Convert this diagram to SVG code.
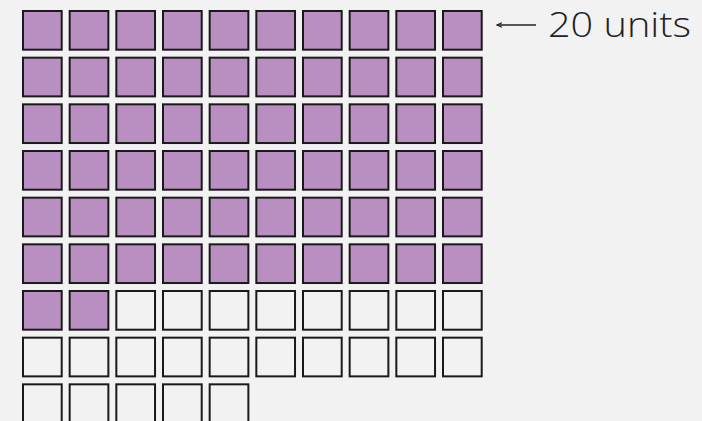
<svg xmlns="http://www.w3.org/2000/svg" width="702" height="421" viewBox="0 0 702 421">
<style>
.f{fill:#b98fc2;stroke:#1a1a1a;stroke-width:2}
.e{fill:none;stroke:#1a1a1a;stroke-width:2}
.t{font-family:"Open Sans","Noto Sans",sans-serif;font-weight:300;font-size:34px;fill:#222}
</style>
<defs>
<marker id="ah" markerWidth="8" markerHeight="8" refX="7" refY="4" orient="auto" markerUnits="userSpaceOnUse">
<path d="M2,1.8 L7,4 L2,6.2" fill="none" stroke="#222" stroke-width="1.2"/>
</marker>
<rect id="c" width="38.7" height="38.7"/>
</defs>
<rect width="702" height="421" fill="#f3f2f3"/>
<g id="grid">
<g id="filled">
<g transform="translate(23,11)">
<use href="#c" class="f" x="0" y="0"/><use href="#c" class="f" x="46.67" y="0"/><use href="#c" class="f" x="93.33" y="0"/><use href="#c" class="f" x="140" y="0"/><use href="#c" class="f" x="186.67" y="0"/><use href="#c" class="f" x="233.33" y="0"/><use href="#c" class="f" x="280" y="0"/><use href="#c" class="f" x="326.67" y="0"/><use href="#c" class="f" x="373.33" y="0"/><use href="#c" class="f" x="420" y="0"/>
<use href="#c" class="f" x="0" y="46.67"/><use href="#c" class="f" x="46.67" y="46.67"/><use href="#c" class="f" x="93.33" y="46.67"/><use href="#c" class="f" x="140" y="46.67"/><use href="#c" class="f" x="186.67" y="46.67"/><use href="#c" class="f" x="233.33" y="46.67"/><use href="#c" class="f" x="280" y="46.67"/><use href="#c" class="f" x="326.67" y="46.67"/><use href="#c" class="f" x="373.33" y="46.67"/><use href="#c" class="f" x="420" y="46.67"/>
<use href="#c" class="f" x="0" y="93.33"/><use href="#c" class="f" x="46.67" y="93.33"/><use href="#c" class="f" x="93.33" y="93.33"/><use href="#c" class="f" x="140" y="93.33"/><use href="#c" class="f" x="186.67" y="93.33"/><use href="#c" class="f" x="233.33" y="93.33"/><use href="#c" class="f" x="280" y="93.33"/><use href="#c" class="f" x="326.67" y="93.33"/><use href="#c" class="f" x="373.33" y="93.33"/><use href="#c" class="f" x="420" y="93.33"/>
<use href="#c" class="f" x="0" y="140"/><use href="#c" class="f" x="46.67" y="140"/><use href="#c" class="f" x="93.33" y="140"/><use href="#c" class="f" x="140" y="140"/><use href="#c" class="f" x="186.67" y="140"/><use href="#c" class="f" x="233.33" y="140"/><use href="#c" class="f" x="280" y="140"/><use href="#c" class="f" x="326.67" y="140"/><use href="#c" class="f" x="373.33" y="140"/><use href="#c" class="f" x="420" y="140"/>
<use href="#c" class="f" x="0" y="186.67"/><use href="#c" class="f" x="46.67" y="186.67"/><use href="#c" class="f" x="93.33" y="186.67"/><use href="#c" class="f" x="140" y="186.67"/><use href="#c" class="f" x="186.67" y="186.67"/><use href="#c" class="f" x="233.33" y="186.67"/><use href="#c" class="f" x="280" y="186.67"/><use href="#c" class="f" x="326.67" y="186.67"/><use href="#c" class="f" x="373.33" y="186.67"/><use href="#c" class="f" x="420" y="186.67"/>
<use href="#c" class="f" x="0" y="233.33"/><use href="#c" class="f" x="46.67" y="233.33"/><use href="#c" class="f" x="93.33" y="233.33"/><use href="#c" class="f" x="140" y="233.33"/><use href="#c" class="f" x="186.67" y="233.33"/><use href="#c" class="f" x="233.33" y="233.33"/><use href="#c" class="f" x="280" y="233.33"/><use href="#c" class="f" x="326.67" y="233.33"/><use href="#c" class="f" x="373.33" y="233.33"/><use href="#c" class="f" x="420" y="233.33"/>
<use href="#c" class="f" x="0" y="280"/><use href="#c" class="f" x="46.67" y="280"/>
</g>
</g>
<g id="empty">
<g transform="translate(23,11)">
<use href="#c" class="e" x="93.33" y="280"/><use href="#c" class="e" x="140" y="280"/><use href="#c" class="e" x="186.67" y="280"/><use href="#c" class="e" x="233.33" y="280"/><use href="#c" class="e" x="280" y="280"/><use href="#c" class="e" x="326.67" y="280"/><use href="#c" class="e" x="373.33" y="280"/><use href="#c" class="e" x="420" y="280"/>
<use href="#c" class="e" x="0" y="326.67"/><use href="#c" class="e" x="46.67" y="326.67"/><use href="#c" class="e" x="93.33" y="326.67"/><use href="#c" class="e" x="140" y="326.67"/><use href="#c" class="e" x="186.67" y="326.67"/><use href="#c" class="e" x="233.33" y="326.67"/><use href="#c" class="e" x="280" y="326.67"/><use href="#c" class="e" x="326.67" y="326.67"/><use href="#c" class="e" x="373.33" y="326.67"/><use href="#c" class="e" x="420" y="326.67"/>
<use href="#c" class="e" x="0" y="373.33"/><use href="#c" class="e" x="46.67" y="373.33"/><use href="#c" class="e" x="93.33" y="373.33"/><use href="#c" class="e" x="140" y="373.33"/><use href="#c" class="e" x="186.67" y="373.33"/>
</g>
</g>
</g>
<g id="connectors">
<line x1="536" y1="25" x2="497" y2="25" stroke="#222" stroke-width="1.3" marker-end="url(#ah)"/>
</g>
<g id="label">
<text class="t" x="548" y="37" textLength="143" lengthAdjust="spacingAndGlyphs">20 units</text>
</g>
</svg>
